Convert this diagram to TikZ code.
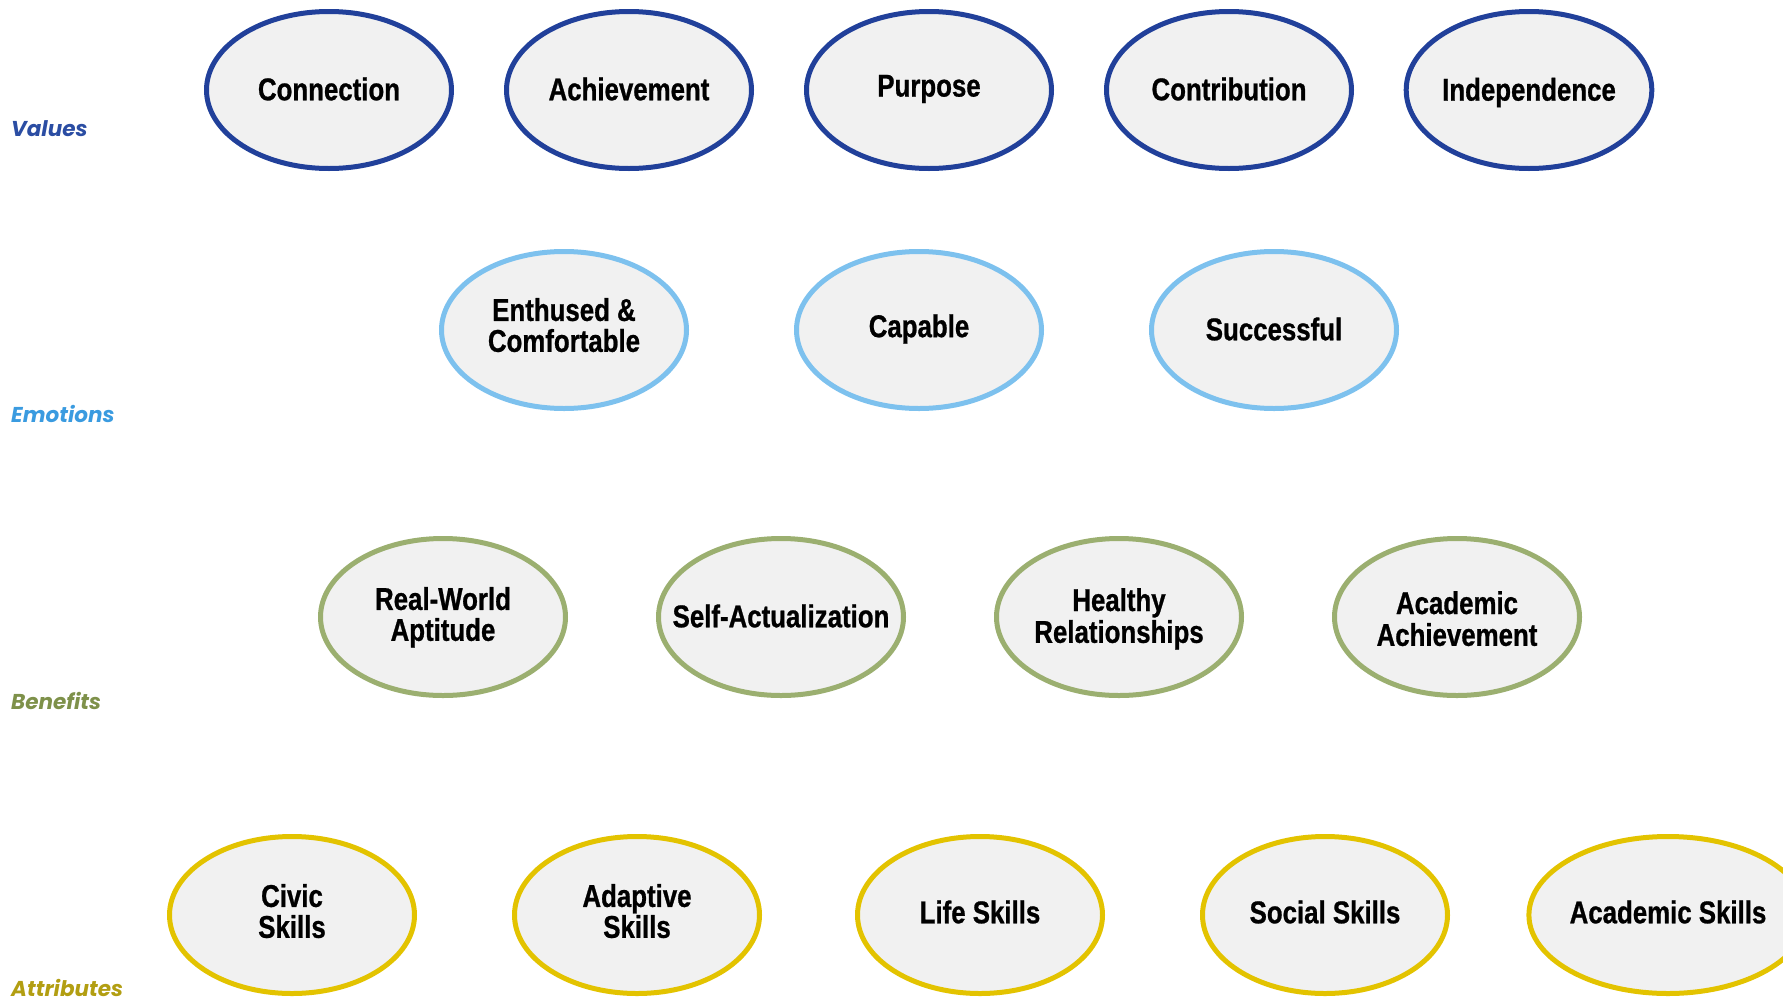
\documentclass[tikz,border=0pt]{standalone}
\usepackage{fontspec}
\usetikzlibrary{shapes.geometric}
\newfontfamily\nodefont{Liberation Sans Bold}[FakeStretch=0.82, FakeBold=0.8]
\newfontfamily\labfont{Poppins}
\definecolor{valc}{HTML}{21409A}
\definecolor{valt}{HTML}{2B4DA3}
\definecolor{emoc}{HTML}{7DC1EE}
\definecolor{emot}{HTML}{3A9BE0}
\definecolor{benc}{HTML}{9BAF70}
\definecolor{bent}{HTML}{7E914A}
\definecolor{attc}{HTML}{E3C300}
\definecolor{attt}{HTML}{B29E12}
\definecolor{fillc}{HTML}{F1F1F1}
\newcommand{\twol}[3][0.93]{{\renewcommand{\arraystretch}{#1}\begin{tabular}{@{}c@{}}#2\\#3\end{tabular}}}
\newcommand{\rb}[2]{\raisebox{#1}[\height][\depth]{#2}}
\tikzset{
  oval/.style={ellipse, draw=#1, fill=fillc, line width=5pt, minimum width=245pt, minimum height=157pt, inner sep=0pt, align=center,
    font=\nodefont\fontsize{31.5}{30}\selectfont, text=black},
  rowlabel/.style={anchor=west, inner sep=0pt, text=#1, font=\labfont\bfseries\itshape\fontsize{21.5}{24}\selectfont}
}
\begin{document}
\begin{tikzpicture}[x=1pt,y=-1pt]
\useasboundingbox (0,0) rectangle (1783,996);
\clip (0,0) rectangle (1783,996);
% labels
\node[rowlabel=valt] (lv) at (11,129) {Values};
\node[rowlabel=emot] (le) at (11,414) {Emotions};
\node[rowlabel=bent] (lb) at (11,701) {Benefits};
\node[rowlabel=attt] (la) at (11,988) {Attributes};
% values
\node[oval=valc] (v1) at (329,90) {\rb{1pt}{Connection}};
\node[oval=valc] (v2) at (629,90) {\rb{1pt}{Achievement}};
\node[oval=valc] (v3) at (929,90) {\rb{1pt}{Purpose}};
\node[oval=valc] (v4) at (1229,90) {\rb{1pt}{Contribution}};
\node[oval=valc] (v5) at (1529,90) {\rb{-2.5pt}{Independence}};
% emotions
\node[oval=emoc] (e1) at (564,330) {\rb{1pt}{\twol[0.9]{Enthused \&}{Comfortable}}};
\node[oval=emoc] (e2) at (919,330) {\rb{1pt}{Capable}};
\node[oval=emoc] (e3) at (1274,330) {\rb{1pt}{Successful}};
% benefits
\node[oval=benc] (b1) at (443,617) {\rb{-1pt}{\twol[0.9]{Real-World}{Aptitude}}};
\node[oval=benc] (b2) at (781,617) {\rb{1pt}{\makebox[0pt]{Self-Actualization}}};
\node[oval=benc] (b3) at (1119,617) {\rb{-3pt}{\twol[1.0]{Healthy}{Relationships}}};
\node[oval=benc] (b4) at (1457,617) {\rb{-6pt}{\twol[1.0]{Academic}{Achievement}}};
% attributes
\node[oval=attc] (a1) at (292,915) {\rb{0pt}{\twol[0.9]{Civic}{Skills}}};
\node[oval=attc] (a2) at (637,915) {\rb{0pt}{\twol[0.9]{Adaptive}{Skills}}};
\node[oval=attc] (a3) at (980,915) {\rb{3pt}{Life Skills}};
\node[oval=attc] (a4) at (1325,915) {\rb{3pt}{Social Skills}};
\node[oval=attc] (a5) at (1668,915) {\rb{3pt}{Academic Skills}};
\end{tikzpicture}
\end{document}
